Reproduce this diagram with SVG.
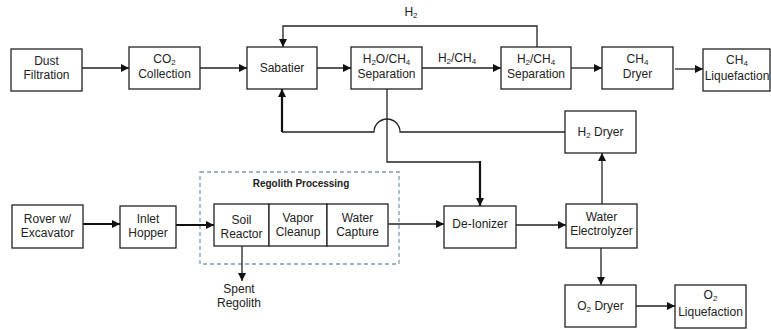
<svg xmlns="http://www.w3.org/2000/svg" width="771" height="330" viewBox="0 0 771 330">
<defs>
<marker id="ah" viewBox="0 0 10 10" refX="10" refY="5" markerWidth="8" markerHeight="8" markerUnits="userSpaceOnUse" orient="auto"><path d="M0,0 L10,5 L0,10 Z" fill="#111"/></marker>
<style>
.box{fill:#fff;stroke:#222;stroke-width:1.3}
.t{font-family:"Liberation Sans",Arial,sans-serif;font-size:12px;fill:#222;text-anchor:middle}
.s{font-size:8px}
.c{fill:none;stroke:#222;stroke-width:1.3}
.k{fill:none;stroke:#111;stroke-width:2.2}
.a{marker-end:url(#ah)}
</style>
</defs>
<rect width="771" height="330" fill="#fff"/>

<g id="regolith-processing">
<rect x="200" y="172" width="199" height="92" fill="none" stroke="#7f9ab5" stroke-width="1.3" stroke-dasharray="4,3"/>
<text x="301" y="187" font-family="'Liberation Sans',Arial,sans-serif" font-size="10" font-weight="bold" fill="#222" text-anchor="middle">Regolith Processing</text>
</g>

<g id="connectors">
<line class="c a" x1="82" y1="68" x2="129" y2="68"/>
<line class="c a" x1="200" y1="68" x2="247" y2="68"/>
<line class="c a" x1="317" y1="68" x2="351" y2="68"/>
<line class="c a" x1="422" y1="68" x2="501" y2="68"/>
<text class="t" x="457" y="62">H<tspan class="s" dy="2">2</tspan><tspan dy="-2">/CH</tspan><tspan class="s" dy="2">4</tspan></text>
<line class="c a" x1="571" y1="68" x2="602" y2="68"/>
<line class="c a" x1="675" y1="69" x2="703" y2="69"/>
<polyline class="c a" points="537,47 537,26 283,26 283,47"/>
<text class="t" x="411" y="16">H<tspan class="s" dy="2">2</tspan></text>
<path class="c" d="M565,132 H400 A13,13 0 0 0 374,132 H282"/>
<polyline class="k a" points="282,132 282,89"/>
<polyline class="c" points="387,89 387,162 480,162"/>
<polyline class="k a" points="480,161 480,206"/>
<line class="c a" x1="602" y1="204" x2="602" y2="153"/>
<line class="c a" x1="601" y1="248" x2="601" y2="285"/>
<line class="c a" x1="636" y1="306" x2="675" y2="306"/>
<line class="k a" x1="83" y1="224" x2="120" y2="224"/>
<line class="k a" x1="176" y1="225" x2="214" y2="225"/>
<line class="c a" x1="388" y1="224" x2="444" y2="224"/>
<line class="c a" x1="516" y1="225" x2="566" y2="225"/>
<line class="c a" x1="242" y1="246" x2="242" y2="281"/>
<text class="t" x="239" y="293">Spent</text>
<text class="t" x="239" y="307">Regolith</text>
</g>

<g id="dust-filtration"><rect class="box" x="11" y="49" width="71" height="42"/><text class="t" x="46.5" y="65">Dust</text><text class="t" x="46.5" y="79">Filtration</text></g>
<g id="co2-collection"><rect class="box" x="129" y="47" width="71" height="42"/><text class="t" x="164.5" y="63">CO<tspan class="s" dy="1.5">2</tspan></text><text class="t" x="164.5" y="78">Collection</text></g>
<g id="sabatier"><rect class="box" x="247" y="47" width="70" height="42"/><text class="t" x="282" y="72">Sabatier</text></g>
<g id="h2o-ch4-separation"><rect class="box" x="351" y="47" width="71" height="42"/><text class="t" x="386.5" y="63">H<tspan class="s" dy="1.5">2</tspan><tspan dy="-1.5">O/CH</tspan><tspan class="s" dy="1.5">4</tspan></text><text class="t" x="386.5" y="78">Separation</text></g>
<g id="h2-ch4-separation"><rect class="box" x="501" y="47" width="70" height="42"/><text class="t" x="536" y="63">H<tspan class="s" dy="1.5">2</tspan><tspan dy="-1.5">/CH</tspan><tspan class="s" dy="1.5">4</tspan></text><text class="t" x="536" y="78">Separation</text></g>
<g id="ch4-dryer"><rect class="box" x="602" y="47" width="71" height="42"/><text class="t" x="637.5" y="63">CH<tspan class="s" dy="1.5">4</tspan></text><text class="t" x="637.5" y="78">Dryer</text></g>
<g id="ch4-liquefaction"><rect class="box" x="703" y="49" width="67" height="42"/><text class="t" x="737" y="64">CH<tspan class="s" dy="1.5">4</tspan></text><text class="t" x="737" y="80">Liquefaction</text></g>
<g id="h2-dryer"><rect class="box" x="565" y="111" width="71" height="42"/><text class="t" x="600.5" y="136">H<tspan class="s" dy="2">2</tspan><tspan dy="-2"> Dryer</tspan></text></g>
<g id="rover"><rect class="box" x="12" y="205" width="71" height="43"/><text class="t" x="47.5" y="223">Rover w/</text><text class="t" x="47.5" y="237">Excavator</text></g>
<g id="inlet-hopper"><rect class="box" x="120" y="206" width="56" height="42"/><text class="t" x="148" y="223">Inlet</text><text class="t" x="148" y="237">Hopper</text></g>
<g id="soil-reactor"><rect class="box" x="214" y="204" width="55" height="42"/><text class="t" x="241.5" y="224">Soil</text><text class="t" x="241.5" y="238">Reactor</text></g>
<g id="vapor-cleanup"><rect class="box" x="269" y="204" width="58" height="42"/><text class="t" x="298" y="222">Vapor</text><text class="t" x="298" y="236">Cleanup</text></g>
<g id="water-capture"><rect class="box" x="327" y="204" width="61" height="42"/><text class="t" x="357.5" y="222">Water</text><text class="t" x="357.5" y="236">Capture</text></g>
<g id="de-ionizer"><rect class="box" x="444" y="206" width="72" height="42"/><text class="t" x="480" y="228">De-Ionizer</text></g>
<g id="water-electrolyzer"><rect class="box" x="566" y="204" width="71" height="44"/><text class="t" x="601.5" y="221">Water</text><text class="t" x="601.5" y="235">Electrolyzer</text></g>
<g id="o2-dryer"><rect class="box" x="565" y="285" width="71" height="42"/><text class="t" x="600.5" y="310">O<tspan class="s" dy="2">2</tspan><tspan dy="-2"> Dryer</tspan></text></g>
<g id="o2-liquefaction"><rect class="box" x="675" y="285" width="71" height="43"/><text class="t" x="710.5" y="299">O<tspan class="s" dy="1.5">2</tspan></text><text class="t" x="710.5" y="316">Liquefaction</text></g>
</svg>
